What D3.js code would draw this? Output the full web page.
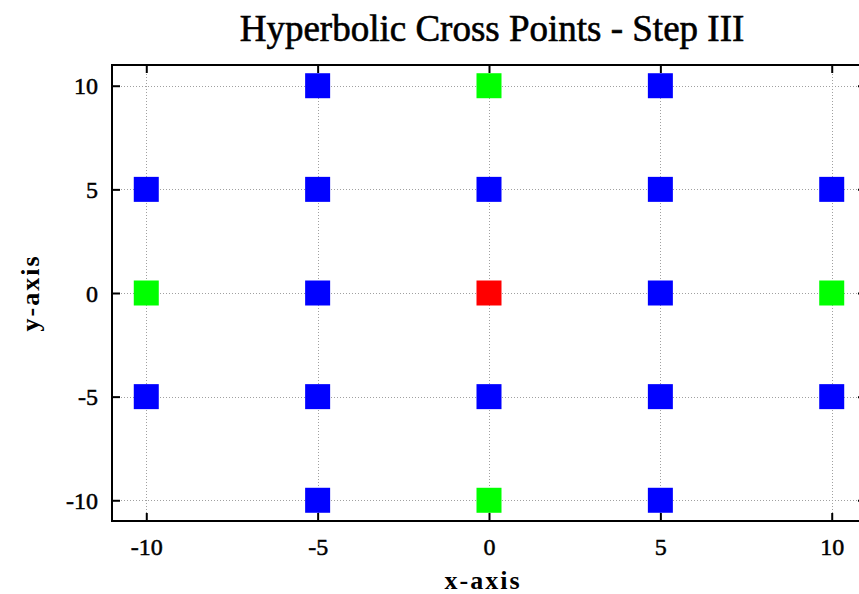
<!DOCTYPE html>
<html>
<head>
<meta charset="utf-8">
<script src="https://cdn.jsdelivr.net/npm/d3@7"></script>
<style>
  html, body { margin: 0; padding: 0; background: #fff; }
  svg { display: block; }
  text { font-family: "Liberation Serif", "DejaVu Serif", serif; }
</style>
</head>
<body>
<svg id="chart" width="859" height="594"></svg>
<script>
const title = 'Hyperbolic Cross Points - Step III';
const xLabel = 'x-axis';
const yLabel = 'y-axis';
const tickValues = [-10, -5, 0, 5, 10];

// points grouped by the step level they belong to
const levelZero = [[0, 0]];
const levelOne = [[0, 10], [-10, 0], [10, 0], [0, -10]];
const levelTwo = [
  [-5, 10], [5, 10],
  [-10, 5], [-5, 5], [0, 5], [5, 5], [10, 5],
  [-5, 0], [5, 0],
  [-10, -5], [-5, -5], [0, -5], [5, -5], [10, -5],
  [-5, -10], [5, -10]
];

const serif = '"Liberation Serif", "DejaVu Serif", serif';
const margin = {left: 112, top: 65, right: 866, bottom: 521};
const markerSize = 25;

const svg = d3.select('#chart');

const xScale = d3.scaleLinear().domain([-11, 11]).range([margin.left, margin.right]);
const yScale = d3.scaleLinear().domain([-11, 11]).range([margin.bottom, margin.top]);

// grid
const grid = svg.append('g')
    .attr('stroke', '#a0a0a0')
    .attr('stroke-width', 1)
    .attr('stroke-dasharray', '1,2');
grid.append('g').selectAll('line')
  .data(tickValues)
  .join('line')
    .attr('x1', d => Math.round(xScale(d)) + 0.5)
    .attr('x2', d => Math.round(xScale(d)) + 0.5)
    .attr('y1', margin.top)
    .attr('y2', margin.bottom);
grid.append('g').selectAll('line')
  .data(tickValues)
  .join('line')
    .attr('y1', d => Math.round(yScale(d)) + 0.5)
    .attr('y2', d => Math.round(yScale(d)) + 0.5)
    .attr('x1', margin.left)
    .attr('x2', margin.right);

// points
const series = [
  {color: '#0000ff', points: levelTwo},
  {color: '#00ff00', points: levelOne},
  {color: '#ff0000', points: levelZero}
];
svg.append('g')
  .selectAll('g')
  .data(series)
  .join('g')
    .attr('fill', d => d.color)
  .selectAll('rect')
  .data(d => d.points)
  .join('rect')
    .attr('x', d => xScale(d[0]) - markerSize / 2)
    .attr('y', d => yScale(d[1]) - markerSize / 2)
    .attr('width', markerSize)
    .attr('height', markerSize);

// inward ticks on all four sides
const tickLen = 8;
const xBottom = d3.axisBottom(xScale).tickValues(tickValues).tickSize(-tickLen).tickSizeOuter(0).tickFormat(d => d);
const xTop = d3.axisTop(xScale).tickValues(tickValues).tickSize(-tickLen).tickSizeOuter(0).tickFormat('');
const yLeft = d3.axisLeft(yScale).tickValues(tickValues).tickSize(-tickLen).tickSizeOuter(0).tickFormat(d => d);
const yRight = d3.axisRight(yScale).tickValues(tickValues).tickSize(-tickLen).tickSizeOuter(0).tickFormat('');

function styleAxis(g) {
  g.attr('font-family', serif).attr('font-size', 24);
  g.select('.domain').remove();
  g.selectAll('.tick line').attr('stroke', '#000').attr('stroke-width', 2);
  // gnuplot's text is a bit heavier than plain Times
  g.selectAll('.tick text')
    .attr('fill', '#000')
    .attr('stroke', '#000')
    .attr('stroke-width', 0.5);
}

svg.append('g')
    .attr('transform', `translate(0,${margin.bottom})`)
    .call(xBottom)
    .call(styleAxis)
    .call(g => g.selectAll('.tick text').attr('y', 34).attr('dy', 0));
svg.append('g')
    .attr('transform', `translate(0,${margin.top})`)
    .call(xTop)
    .call(styleAxis);
svg.append('g')
    .attr('transform', `translate(${margin.left},0)`)
    .call(yLeft)
    .call(styleAxis)
    .call(g => g.selectAll('.tick text').attr('x', -14).attr('dy', '0.34em'));
svg.append('g')
    .attr('transform', `translate(${margin.right},0)`)
    .call(yRight)
    .call(styleAxis);

// border
svg.append('rect')
    .attr('x', margin.left)
    .attr('y', margin.top)
    .attr('width', margin.right - margin.left)
    .attr('height', margin.bottom - margin.top)
    .attr('fill', 'none')
    .attr('stroke', '#000')
    .attr('stroke-width', 2);

// labels
svg.append('text')
    .attr('x', 492)
    .attr('y', 41)
    .attr('text-anchor', 'middle')
    .attr('font-family', serif)
    .attr('font-size', 37)
    .attr('stroke', '#000')
    .attr('stroke-width', 0.6)
    .text(title);

svg.append('text')
    .attr('x', 483)
    .attr('y', 589)
    .attr('text-anchor', 'middle')
    .attr('font-family', serif)
    .attr('font-size', 26)
    .attr('font-weight', 'bold')
    .attr('letter-spacing', 2)
    .text(xLabel);

svg.append('text')
    .attr('transform', `translate(39,293) rotate(-90)`)
    .attr('text-anchor', 'middle')
    .attr('font-family', serif)
    .attr('font-size', 26)
    .attr('font-weight', 'bold')
    .attr('letter-spacing', 2)
    .text(yLabel);
</script>
</body>
</html>
